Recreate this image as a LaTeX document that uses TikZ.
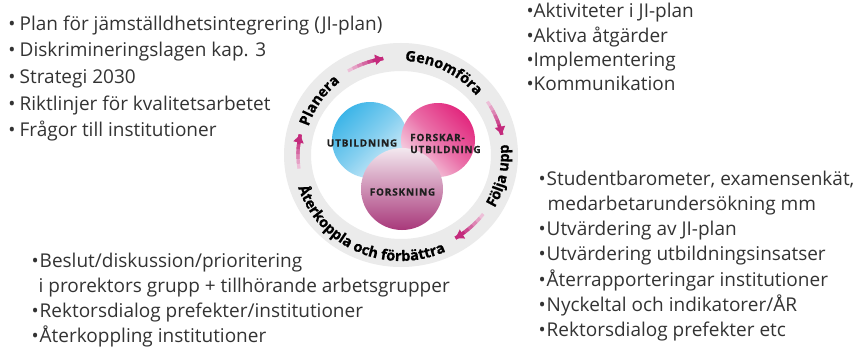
\documentclass[tikz,border=0pt]{standalone}
\usepackage{fontspec}
\setmainfont{Open Sans}
\newfontfamily\vennfont[LetterSpace=8,BoldFeatures={FakeBold=0.6}]{Open Sans}
\newfontfamily\ringfam[BoldFeatures={FakeBold=0.8}]{Open Sans}
\usetikzlibrary{decorations.text,arrows.meta}
\definecolor{txt}{HTML}{333333}
\definecolor{band}{HTML}{EBEBEB}
\definecolor{arrowmag}{HTML}{C42A7C}
\definecolor{cyanC}{HTML}{3DB5E8}
\definecolor{paleB}{HTML}{DCEFF9}
\definecolor{pinkC}{HTML}{E2287E}
\definecolor{paleP}{HTML}{F6DCE8}
\definecolor{plumC}{HTML}{A8387A}
\definecolor{paleF}{HTML}{F3E8EF}
\newcommand{\blt}[1]{\makebox[#1][l]{\textbullet}}
\newcommand{\ringfont}{\ringfam\bfseries\fontsize{14.5}{14.5}\selectfont}
\newcommand{\magarrow}[2]{%
  \foreach \k in {0,...,5}{%
    \pgfmathsetmacro{\aS}{#1+(#2-#1)*\k/7}%
    \pgfmathtruncatemacro{\sh}{30+14*\k}%
    \draw[arrowmag!\sh!white, line width=3.2pt] (rc) ++(\aS:103pt and 98pt)
      arc[start angle=\aS, end angle=#2, x radius=103pt, y radius=98pt];
  }%
  \pgfmathsetmacro{\aS}{#1+(#2-#1)*6/7}%
  \draw[arrowmag, line width=3.2pt, -{Triangle[length=8pt,width=10pt]}] (rc) ++(\aS:103pt and 98pt)
      arc[start angle=\aS, end angle=#2, x radius=103pt, y radius=98pt];
}
\begin{document}
\begin{tikzpicture}[x=1pt,y=1pt,
  listtext/.style={anchor=base west, inner sep=0pt, text=txt, font=\fontsize{19}{26}\selectfont},
  venntext/.style={inner sep=0pt, font=\vennfont\bfseries\fontsize{10}{12}\selectfont, text=black!88},
  ringlabel/.style={decorate, decoration={text along path, text={|\ringfont|#1}, text align=center}}
]
\useasboundingbox (0,0) rectangle (865,349);
\fill[white] (0,0) rectangle (865,349);

% ring band
\coordinate (rc) at (401,194);
\fill[band, even odd rule] (rc) ellipse[x radius=117pt, y radius=112pt]
                           (rc) ellipse[x radius=90pt, y radius=84pt];

% venn circles
\shade[top color=cyanC, bottom color=paleB, middle color=cyanC!55!paleB, shading angle=45] (370,209) circle[radius=38pt];
\shade[top color=pinkC, bottom color=paleP, middle color=pinkC!60!paleP, shading angle=-45] (438,209) circle[radius=37pt];
\shade[top color=paleF, bottom color=plumC, middle color=plumC!50!paleF] (402,160) circle[radius=41pt];

\node[venntext] (utb) at (362,206) {UTBILDNING};
\node[venntext, anchor=west] (fu1) at (410,211.5) {FORSKAR-};
\node[venntext, anchor=west] (fu2) at (410,199.5) {UTBILDNING};
\node[venntext] (fors) at (402.5,157) {FORSKNING};

% ring arrows
\magarrow{121}{100}
\magarrow{33}{12}
\magarrow{-37}{-58}
\magarrow{188}{168}

% ring labels
\path[ringlabel=Planera] (rc) ++(192:97pt and 94pt)
  arc[start angle=192, end angle=100, x radius=97pt, y radius=94pt];
\path[ringlabel=Genomföra] (rc) ++(112:97pt and 94pt)
  arc[start angle=112, end angle=14, x radius=97pt, y radius=94pt];
\path[ringlabel=Följa upp] (rc) ++(-60:108pt and 106pt)
  arc[start angle=-60, end angle=36, x radius=108pt, y radius=106pt];
\path[ringlabel=Återkoppla och förbättra] (rc) ++(160:108pt and 106pt)
  arc[start angle=160, end angle=332, x radius=108pt, y radius=106pt];

% top-left list
\node[listtext] (tl1) at (8.3,319)   {\blt{11.2pt}Plan för jämställdhetsintegrering (JI-plan)};
\node[listtext] (tl2) at (8.3,292.3) {\blt{11.2pt}Diskrimineringslagen kap. 3};
\node[listtext] (tl3) at (8.3,265.6) {\blt{11.2pt}Strategi 2030};
\node[listtext] (tl4) at (8.3,238.9) {\blt{11.2pt}Riktlinjer för kvalitetsarbetet};
\node[listtext] (tl5) at (8.3,212.2) {\blt{11.2pt}Frågor till institutioner};

% top-right list
\node[listtext] (tr1) at (526.3,331)   {\blt{7.2pt}Aktiviteter i JI-plan};
\node[listtext] (tr2) at (526.3,306.7) {\blt{7.2pt}Aktiva åtgärder};
\node[listtext] (tr3) at (526.3,282.4) {\blt{7.2pt}Implementering};
\node[listtext] (tr4) at (526.3,258.1) {\blt{7.2pt}Kommunikation};

% bottom-right list
\node[listtext] (br1) at (538.3,164)   {\blt{8.2pt}Studentbarometer, examensenkät,};
\node[listtext] (br2) at (547.5,138.7) {medarbetarundersökning mm};
\node[listtext] (br3) at (538.3,113.4) {\blt{8.2pt}Utvärdering av JI-plan};
\node[listtext] (br4) at (538.3,88.1)  {\blt{8.2pt}Utvärdering utbildningsinsatser};
\node[listtext] (br5) at (538.3,62.8)  {\blt{8.2pt}Återrapporteringar institutioner};
\node[listtext] (br6) at (538.3,37.5)  {\blt{8.2pt}Nyckeltal och indikatorer/ÅR};
\node[listtext] (br7) at (538.3,12.2)  {\blt{8.2pt}Rektorsdialog prefekter etc};

% bottom-left list
\node[listtext] (bl1) at (31.3,82) {\blt{8.2pt}Beslut/diskussion/prioritering};
\node[listtext] (bl2) at (38.5,57) {i prorektors grupp + tillhörande arbetsgrupper};
\node[listtext] (bl3) at (31.3,32) {\blt{8.2pt}Rektorsdialog prefekter/institutioner};
\node[listtext] (bl4) at (31.3,7)  {\blt{8.2pt}Återkoppling institutioner};
\end{tikzpicture}
\end{document}
